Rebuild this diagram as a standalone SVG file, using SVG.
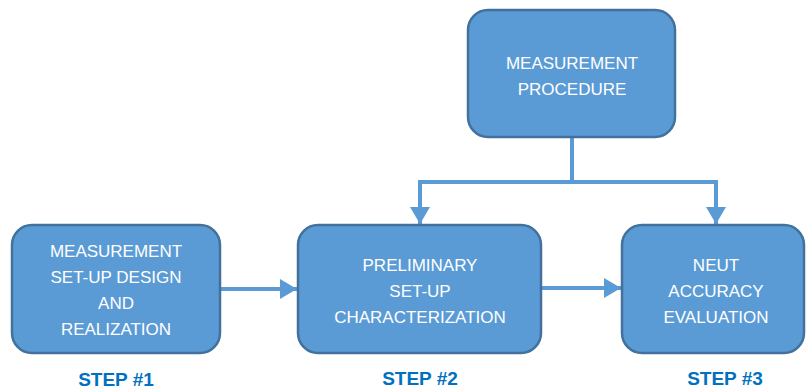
<svg xmlns="http://www.w3.org/2000/svg" width="806" height="390" viewBox="0 0 806 390">
<style>
.box{fill:#5B9BD5;stroke:#41719C;stroke-width:2.5}
.lbl{fill:#FFFFFF;font-family:"Liberation Sans",Arial,sans-serif;font-size:17px;text-anchor:middle}
.step{fill:#0070C0;font-family:"Liberation Sans",Arial,sans-serif;font-size:19px;font-weight:bold;text-anchor:middle}
.conn{fill:none;stroke:#5B9BD5;stroke-width:4;stroke-linejoin:miter}
</style>
<defs>
<marker id="arr" markerUnits="userSpaceOnUse" markerWidth="17" markerHeight="20" refX="17" refY="10" orient="auto">
<path d="M0,0 L17,10 L0,20 z" fill="#5B9BD5"/>
</marker>
</defs>
<rect width="806" height="390" fill="#FFFFFF"/>
<g id="connectors">
<path class="conn" d="M572,137 V182 H420 V224" marker-end="url(#arr)"/>
<path class="conn" d="M572,182 H716 V224" marker-end="url(#arr)"/>
<path class="conn" d="M220,289 H297" marker-end="url(#arr)"/>
<path class="conn" d="M541,288 H621" marker-end="url(#arr)"/>
</g>
<g id="procedure">
<rect class="box" x="468" y="10" width="207" height="127" rx="20"/>
<text class="lbl" x="572" y="69">MEASUREMENT</text>
<text class="lbl" x="572" y="95">PROCEDURE</text>
</g>
<g id="step1">
<rect class="box" x="12" y="225" width="208" height="128" rx="20"/>
<text class="lbl" x="116" y="257">MEASUREMENT</text>
<text class="lbl" x="116" y="283">SET-UP DESIGN</text>
<text class="lbl" x="116" y="309">AND</text>
<text class="lbl" x="116" y="335">REALIZATION</text>
<text class="step" x="116" y="386">STEP #1</text>
</g>
<g id="step2">
<rect class="box" x="298" y="225" width="243" height="128" rx="20"/>
<text class="lbl" x="420" y="271">PRELIMINARY</text>
<text class="lbl" x="420" y="297">SET-UP</text>
<text class="lbl" x="420" y="323">CHARACTERIZATION</text>
<text class="step" x="420" y="385">STEP #2</text>
</g>
<g id="step3">
<rect class="box" x="622" y="225" width="182" height="128" rx="20"/>
<text class="lbl" x="716" y="271">NEUT</text>
<text class="lbl" x="716" y="297">ACCURACY</text>
<text class="lbl" x="716" y="323">EVALUATION</text>
<text class="step" x="725" y="385">STEP #3</text>
</g>
</svg>
